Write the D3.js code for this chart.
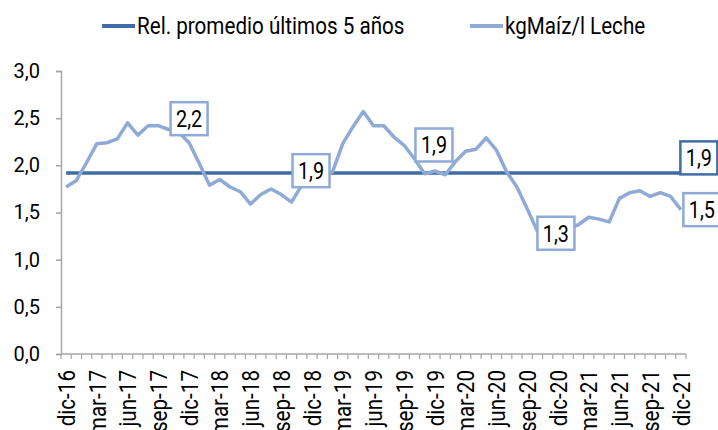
<!DOCTYPE html>
<html>
<head>
<meta charset="utf-8">
<script src="https://cdn.jsdelivr.net/npm/d3@7"></script>
<style>
  body { margin: 0; background: #fff; }
  svg { display: block; font-family: Roboto, "Noto Sans", sans-serif; }
</style>
</head>
<body>
<div id="chart"></div>
<script>
// months, dic-16 .. dic-21
const categories = [
  'dic-16','ene-17','feb-17','mar-17','abr-17','may-17','jun-17','jul-17','ago-17','sep-17','oct-17','nov-17',
  'dic-17','ene-18','feb-18','mar-18','abr-18','may-18','jun-18','jul-18','ago-18','sep-18','oct-18','nov-18',
  'dic-18','ene-19','feb-19','mar-19','abr-19','may-19','jun-19','jul-19','ago-19','sep-19','oct-19','nov-19',
  'dic-19','ene-20','feb-20','mar-20','abr-20','may-20','jun-20','jul-20','ago-20','sep-20','oct-20','nov-20',
  'dic-20','ene-21','feb-21','mar-21','abr-21','may-21','jun-21','jul-21','ago-21','sep-21','oct-21','nov-21',
  'dic-21'
];

// kg maiz / l leche
const kgMaiz = [
  1.77, 1.84, 2.03, 2.23, 2.24, 2.28, 2.45, 2.32, 2.42, 2.42, 2.38, 2.35,
  2.24, 2.02, 1.79, 1.85, 1.77, 1.72, 1.59, 1.69, 1.75, 1.69, 1.61, 1.79,
  1.88, 1.91, 1.93, 2.23, 2.41, 2.57, 2.42, 2.42, 2.30, 2.21, 2.07, 1.91,
  1.94, 1.90, 2.04, 2.15, 2.17, 2.29, 2.16, 1.93, 1.77, 1.54, 1.30, 1.26,
  1.28, 1.33, 1.37, 1.45, 1.43, 1.40, 1.65, 1.71, 1.73, 1.67, 1.71, 1.67,
  1.53
];

const promedio5 = 1.92;
const yTicks = [0, 0.5, 1, 1.5, 2, 2.5, 3];
const seriesNames = ['Rel. promedio últimos 5 años', 'kgMaíz/l Leche'];

const W = 718, H = 430;
const colAvg = '#3f6ca6';
const colKg = '#8eaad6';
const axisCol = '#a6a6a6';
const narrow = 0.86; // fake a condensed face

const locale = d3.formatLocale({ decimal: ',', thousands: '.', grouping: [3], currency: ['$', ''] });
const fmt = locale.format('.1f');

const svg = d3.select('#chart').append('svg')
  .attr('width', W)
  .attr('height', H);

const x = d3.scaleBand()
  .domain(categories)
  .range([61, 686]);
const cx = d => x(d) + x.bandwidth() / 2;

const y = d3.scaleLinear()
  .domain([0, 3])
  .range([354, 71]);

// y axis
const yAxis = svg.append('g')
  .attr('transform', 'translate(61,0)')
  .call(d3.axisLeft(y).tickValues(yTicks).tickSize(5).tickPadding(16).tickFormat(fmt));
yAxis.select('.domain').attr('stroke', axisCol).attr('stroke-width', 1.5);
yAxis.selectAll('.tick line').attr('stroke', axisCol).attr('stroke-width', 1.5);
yAxis.selectAll('.tick text')
  .attr('font-size', 20)
  .attr('fill', '#000')
  .attr('font-family', 'Roboto');

// x axis: tick marks between categories, labels every 3 months
const xg = svg.append('g').attr('transform', 'translate(0,354)');
xg.append('line')
  .attr('x1', x.range()[0]).attr('x2', x.range()[1])
  .attr('stroke', axisCol).attr('stroke-width', 1.5);
const bounds = categories.map(c => x(c)).concat([x.range()[1]]);
xg.selectAll('line.tk')
  .data(bounds)
  .enter()
  .append('line')
    .attr('class', 'tk')
    .attr('x1', d => d).attr('x2', d => d)
    .attr('y1', 0).attr('y2', 5)
    .attr('stroke', axisCol).attr('stroke-width', 1.2);

xg.selectAll('text')
  .data(categories.filter((c, i) => i % 3 === 0))
  .enter()
  .append('text')
    .attr('transform', d => 'translate(' + cx(d) + ',16) rotate(-90) scale(' + narrow + ',1)')
    .attr('text-anchor', 'end')
    .attr('dy', '0.36em')
    .attr('font-size', 24)
    .text(d => d);

// lines
svg.append('line')
  .attr('x1', cx(categories[0]))
  .attr('x2', cx(categories[categories.length - 1]))
  .attr('y1', y(promedio5))
  .attr('y2', y(promedio5))
  .attr('stroke', colAvg)
  .attr('stroke-width', 3.5);

const line = d3.line()
  .x((d, i) => cx(categories[i]))
  .y(d => y(d));

svg.append('path')
  .datum(kgMaiz)
  .attr('d', line)
  .attr('fill', 'none')
  .attr('stroke', colKg)
  .attr('stroke-width', 3.5)
  .attr('stroke-linejoin', 'round');

// data labels
const labels = [
  { i: 12, v: kgMaiz[12], col: colKg, dx: 0, dy: -24 },
  { i: 24, v: kgMaiz[24], col: colKg, dx: -1, dy: -6 },
  { i: 36, v: kgMaiz[36], col: colKg, dx: -1, dy: -26 },
  { i: 48, v: kgMaiz[48], col: colKg, dx: -2, dy: 0 },
  { i: 60, v: promedio5, col: colAvg, dx: 18, dy: -15 },
  { i: 60, v: kgMaiz[60], col: colKg, dx: 21, dy: 0 }
];

const bw = 37, bh = 33;
const lg = svg.selectAll('g.lbl')
  .data(labels)
  .enter()
  .append('g')
    .attr('class', 'lbl')
    .attr('transform', d => 'translate(' + (cx(categories[d.i]) + d.dx) + ',' + (y(d.v) + d.dy) + ')');
lg.append('rect')
  .attr('x', -bw / 2).attr('y', -bh / 2)
  .attr('width', bw).attr('height', bh)
  .attr('fill', '#fff')
  .attr('stroke', d => d.col)
  .attr('stroke-width', 2.5);
lg.append('text')
  .attr('text-anchor', 'middle')
  .attr('dy', '0.36em')
  .attr('font-size', 23)
  .attr('transform', 'scale(' + narrow + ',1)')
  .text(d => fmt(d.v));

// legend
const leg = svg.append('g').attr('transform', 'translate(0,26)');
const legItems = [
  { name: seriesNames[0], col: colAvg, x: 102 },
  { name: seriesNames[1], col: colKg, x: 470 }
];
const li = leg.selectAll('g')
  .data(legItems)
  .enter()
  .append('g')
    .attr('transform', d => 'translate(' + d.x + ',0)');
li.append('line')
  .attr('x1', 0).attr('x2', 33)
  .attr('stroke', d => d.col)
  .attr('stroke-width', 4);
li.append('text')
  .attr('transform', 'translate(35,0) scale(' + narrow + ',1)')
  .attr('dy', '0.35em')
  .attr('font-size', 24)
  .text(d => d.name);
</script>
</body>
</html>
